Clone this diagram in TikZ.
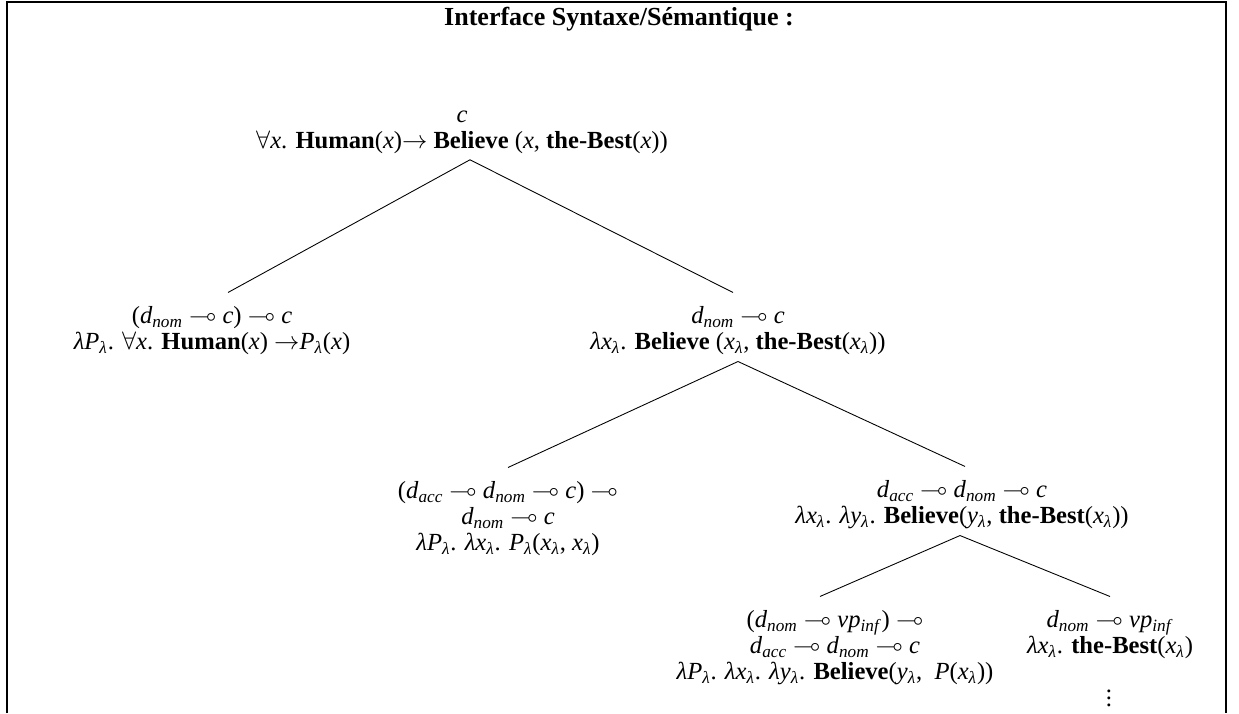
\documentclass[tikz,border=0pt]{standalone}
\usepackage{fontspec}
\setmainfont{Liberation Serif}
\usepackage{amssymb}
\usetikzlibrary{positioning,calc}

% glue symbols and typed atoms
\newcommand{\lin}{\ensuremath{\multimap}}
\newcommand{\sub}[2]{\textit{#1}\textsubscript{\textit{#2}}}
\newcommand{\lam}{\textit{λ}}
\newcommand{\xl}{\sub{x}{λ}}
\newcommand{\yl}{\sub{y}{λ}}
\newcommand{\Pl}{\sub{P}{λ}}
\newcommand{\dnom}{\sub{d}{nom}}
\newcommand{\dacc}{\sub{d}{acc}}
\newcommand{\vpinf}{\textit{v}\sub{p}{inf}}

\begin{document}
\begin{tikzpicture}[
  x=0.02cm, y=-0.02cm,
  lbl/.style={inner sep=0pt, align=center, font=\fontsize{14}{14.8}\selectfont},
  branch/.style={line width=0.5pt},
  frame/.style={line width=1.1pt}
]
  \useasboundingbox (0,0) rectangle (1239,713);
  % Frame and title
  \draw[frame] (7,713) -- (7,2) -- (1226,2) -- (1226,713);
  \node[lbl, font=\fontsize{14.8}{15}\selectfont\bfseries] (title) at (619,19) {Interface Syntaxe/Sémantique :};
  % Level 1: root
  \node[lbl] (root) at (462,132) {\textit{c}\\
    $\forall$\textit{x}. \textbf{Human}(\textit{x})$\rightarrow$ \textbf{Believe} (\textit{x}, \textbf{the-Best}(\textit{x}))};
  % Level 2
  \node[lbl] (subj) at (212,331) {(\dnom{} \lin{} \textit{c}) \lin{} \textit{c}\\
    \lam\Pl. $\forall$\textit{x}. \textbf{Human}(\textit{x}) $\rightarrow$\Pl(\textit{x})};
  \node[lbl] (vp) at (738,331) {\dnom{} \lin{} \textit{c}\\
    \lam\xl. \textbf{Believe} (\xl, \textbf{the-Best}(\xl))};
  % Level 3
  \node[lbl] (refl) at (508,519) {(\dacc{} \lin{} \dnom{} \lin{} \textit{c}) \lin{}\\
    \dnom{} \lin{} \textit{c}\\
    \lam\Pl. \lam\xl. \Pl(\xl, \xl)};
  \node[lbl] (tv) at (962,505) {\dacc{} \lin{} \dnom{} \lin{} \textit{c}\\
    \lam\xl. \lam\yl. \textbf{Believe}(\yl, \textbf{the-Best}(\xl))};
  % Level 4
  \node[lbl] (verb) at (835,648) {(\dnom{} \lin{} \vpinf) \lin{}\\
    \dacc{} \lin{} \dnom{} \lin{} \textit{c}\\
    \lam\Pl. \lam\xl. \lam\yl. \textbf{Believe}(\yl,\ \ \textit{P}(\xl))};
  \node[lbl] (best) at (1110,635) {\dnom{} \lin{} \vpinf\\
    \lam\xl. \textbf{the-Best}(\xl)};
  \node[lbl] (dots) at (1109,693) {$\vdots$};
  % Branches
  \draw[branch] ($(root.south)+(8,6)$) -- ($(subj.north)+(16,-14)$);
  \draw[branch] ($(root.south)+(8,6)$) -- ($(vp.north)+(-5,-14)$);
  \draw[branch] ($(vp.south)+(0,6)$) -- ($(refl.north)+(0,-14)$);
  \draw[branch] ($(vp.south)+(0,6)$) -- ($(tv.north)+(3,-14)$);
  \draw[branch] ($(tv.south)+(-2,6)$) -- ($(verb.north)+(-15,-14)$);
  \draw[branch] ($(tv.south)+(-2,6)$) -- ($(best.north)+(0,-14)$);
\end{tikzpicture}
\end{document}
